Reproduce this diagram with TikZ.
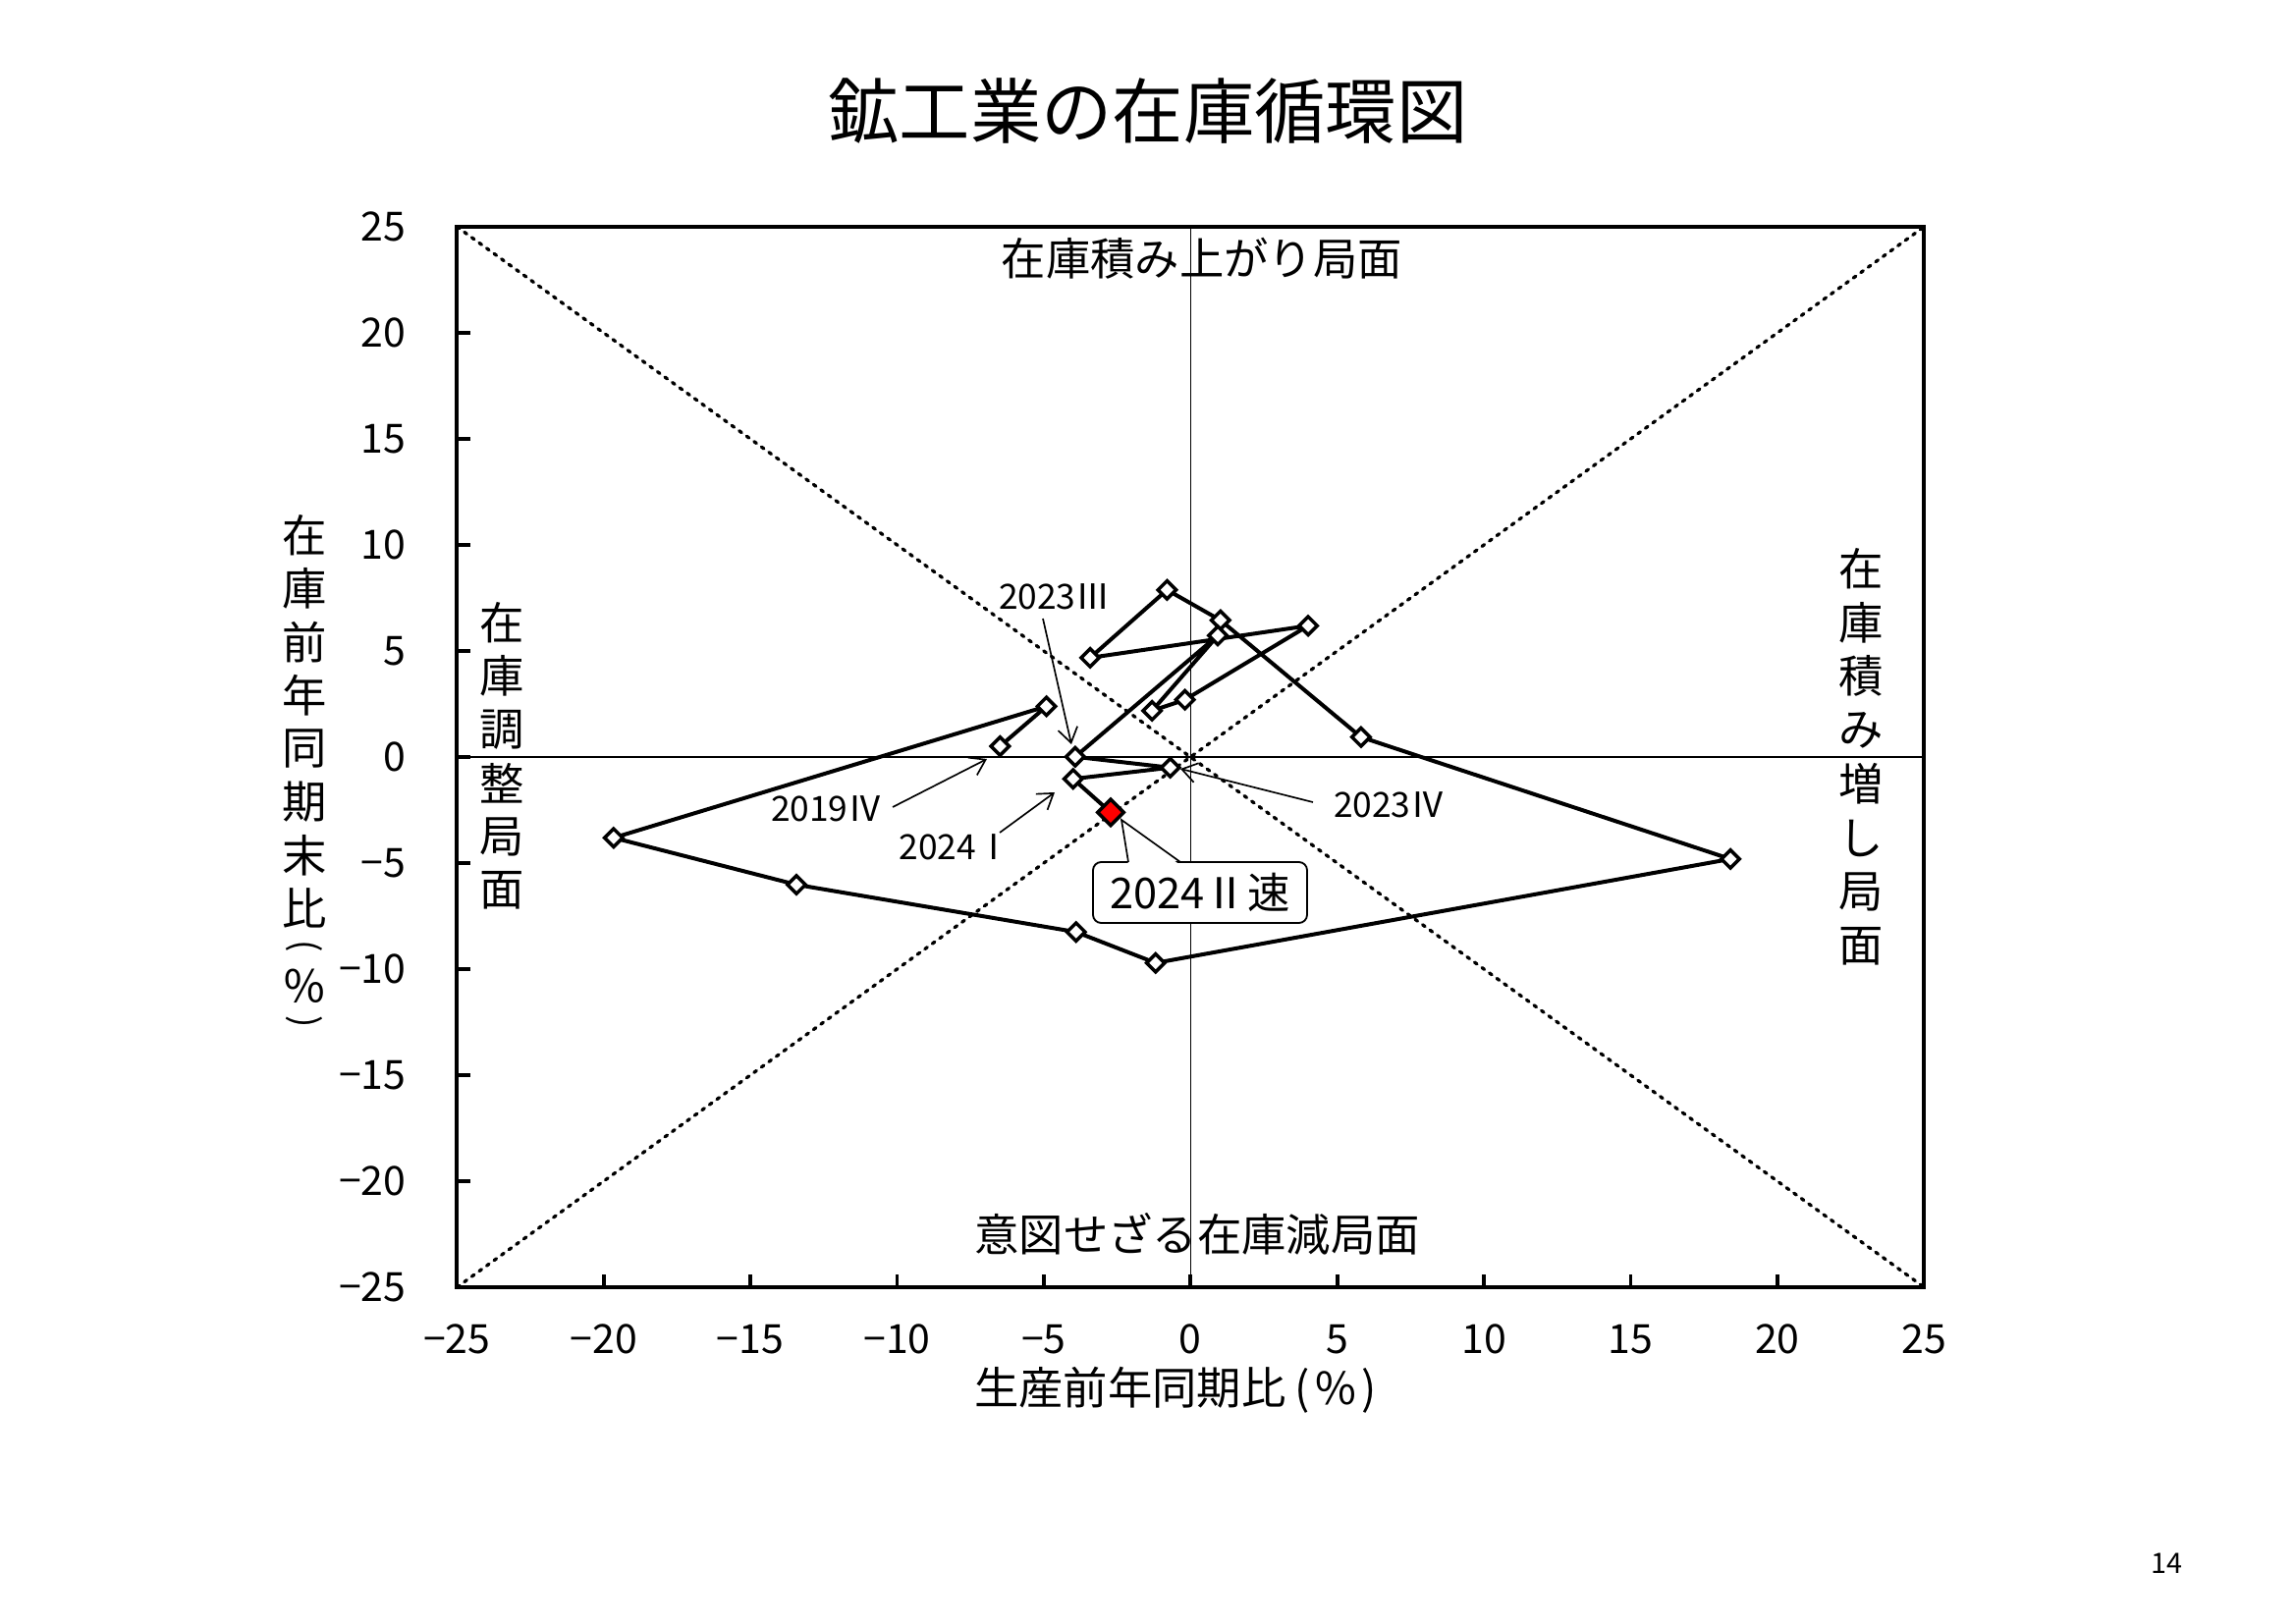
\documentclass[tikz,border=0pt]{standalone}
\usepackage{fontspec}
\setmainfont{Noto Sans CJK JP}
\usetikzlibrary{shapes.geometric,arrows.meta}
\newcommand\fsz[2]{\fontsize{#1}{#2}\selectfont}
\newcommand\tlab[1]{\ifnum#1<0 −\the\numexpr0-(#1)\relax\else#1\fi}
\begin{document}
\begin{tikzpicture}[x=0.3pt,y=-0.3pt,
  plotframe/.style={line width=1.3pt},
  zeroaxis/.style={line width=0.4pt},
  diagline/.style={line width=1pt,line cap=round,dash pattern=on 0.9pt off 1.9pt},
  serline/.style={line width=1.2pt,line join=round},
  mkr/.style={rectangle,rotate=45,draw,fill=white,line width=1.05pt,inner sep=0pt,minimum width=3.9pt,minimum height=3.9pt},
  mkrred/.style={mkr,fill=red,minimum width=5.6pt,minimum height=5.6pt},
  tickln/.style={line width=1.1pt},
  ticklab/.style={inner sep=0pt,font=\fsz{12.3pt}{13pt}},
  quadlab/.style={inner sep=0pt,font=\fsz{13.6pt}{16pt}},
  smlab/.style={inner sep=0pt,font=\fsz{10.6pt}{12pt}},
  callarrow/.style={line width=0.5pt,-{Straight Barb[length=4.5pt,width=6pt]}},
]
\useasboundingbox (0,0) rectangle (2338,1654);
\fill[white] (0,0) rectangle (2338,1654);

% title
\node[inner sep=0pt,font=\fsz{21.7pt}{24pt}] (title) at (1169,112.6) {鉱工業の在庫循環図};

% data area
\begin{scope}[shift={(363.69pt,-231.3pt)},x=8.964pt,y=6.48pt]
  \coordinate (bl) at (-25,-25);
  \coordinate (br) at (25,-25);
  \coordinate (tl) at (-25,25);
  \coordinate (tr) at (25,25);
  \coordinate (xa) at (-25,0);
  \coordinate (xb) at (25,0);
  \coordinate (ya) at (0,-25);
  \coordinate (yb) at (0,25);
  \draw[zeroaxis] (xa) -- (xb);
  \draw[zeroaxis] (ya) -- (yb);
  \draw[diagline] (bl) -- (tr);
  \draw[diagline] (tl) -- (br);

  \coordinate (p1) at (-6.49,0.51);
  \coordinate (p2) at (-4.91,2.39);
  \coordinate (p3) at (-19.66,-3.81);
  \coordinate (p4) at (-13.43,-6.02);
  \coordinate (p5) at (-3.90,-8.25);
  \coordinate (p6) at (-1.19,-9.71);
  \coordinate (p7) at (18.40,-4.81);
  \coordinate (p8) at (5.81,0.94);
  \coordinate (p9) at (1.02,6.45);
  \coordinate (p10) at (-0.80,7.88);
  \coordinate (p11) at (-3.42,4.68);
  \coordinate (p12) at (4.01,6.19);
  \coordinate (p13) at (-0.19,2.70);
  \coordinate (p14) at (-1.31,2.18);
  \coordinate (p15) at (0.93,5.73);
  \coordinate (p16) at (-3.93,0.01);
  \coordinate (p17) at (-0.69,-0.50);
  \coordinate (p18) at (-4.00,-1.03);
  \coordinate (p19) at (-2.72,-2.61);
  \draw[serline] (p1) -- (p2) -- (p3) -- (p4) -- (p5) -- (p6) -- (p7) -- (p8)
     -- (p9) -- (p10) -- (p11) -- (p12) -- (p13) -- (p14) -- (p15) -- (p16)
     -- (p17) -- (p18) -- (p19);
  \foreach \i in {1,...,18} \node[mkr] (m\i) at (p\i) {};
  \node[mkrred] (m19) at (p19) {};

  \draw[plotframe] (bl) rectangle (tr);
  \foreach \v in {-20,-15,...,20} {
    \draw[tickln] (\v,-25) -- ++(0,4pt);
    \draw[tickln] (-25,\v) -- ++(4pt,0);
  }
\end{scope}

% tick labels
\foreach \v [count=\i] in {-25,-20,...,25} {
  \node[ticklab,anchor=east] (yl\i) at (414,{771-21.6*\v}) {\tlab{\v}};
  \node[ticklab] (xl\i) at ({1212.3+29.88*\v},1364) {\tlab{\v}};
}

% axis titles
\node[quadlab] (xt) at (1197,1416) {生産前年同期比\kern.2em(\kern.12em\%\kern.12em)};
\foreach \c [count=\i] in {在,庫,前,年,同,期,末,比}
  \node[quadlab] (yt\i) at (310,{545+54.3*(\i-1)}) {\c};
\node[inner sep=0pt,font=\fsz{11pt}{12pt},rotate=-90] (yt9) at (310,964) {(};
\node[quadlab] (yt10) at (310,1004) {％};
\node[inner sep=0pt,font=\fsz{11pt}{12pt},rotate=-90] (yt11) at (310,1041) {)};

% quadrant labels
\node[quadlab] (qtop) at (1223.8,263) {在庫積み上がり局面};
\node[quadlab] (qbot) at (1219,1257) {意図せざる在庫減局面};
\foreach \c [count=\i] in {在,庫,調,整,局,面}
  \node[quadlab] (ql\i) at (511,{634+54.6*(\i-1)}) {\c};
\foreach \c [count=\i] in {在,庫,積,み,増,し,局,面}
  \node[quadlab] (qr\i) at (1895,{579+54.9*(\i-1)}) {\c};

% point labels
\node[smlab] (l1) at (842,823.5) {2019Ⅳ};
\node[smlab] (l2) at (1074,608) {2023Ⅲ};
\node[smlab] (l3) at (1415,819.7) {2023Ⅳ};
\node[smlab] (l4) at (972.5,862.5) {2024Ⅰ};
\coordinate (a1s) at (909,822);  \coordinate (a1e) at (1005,773);
\coordinate (a2s) at (1062,630); \coordinate (a2e) at (1091,758);
\coordinate (a3s) at (1337,817); \coordinate (a3e) at (1202,783);
\coordinate (a4s) at (1018,848); \coordinate (a4e) at (1074,807);
\draw[callarrow] (a1s) -- (a1e);
\draw[callarrow] (a2s) -- (a2e);
\draw[callarrow] (a3s) -- (a3e);
\draw[callarrow] (a4s) -- (a4e);

% callout
\node[draw,line width=0.55pt,rounded corners=2.5pt,fill=white,minimum width=65.4pt,
  minimum height=18.6pt,inner sep=0pt,font=\fsz{13pt}{14pt}] (cbox) at (1222,909) {2024Ⅱ速};
\coordinate (cb1) at (1149,878);
\coordinate (cb2) at (1202,878);
\coordinate (capx) at (1142,835);
\fill[white] ([yshift=-1pt]cb1) -- (capx) -- ([yshift=-1pt]cb2) -- cycle;
\draw[line width=0.5pt] (cb1) -- (capx) -- (cb2);

% page number
\node[inner sep=0pt,font=\fsz{8.6pt}{10pt}] (pg) at (2206,1592) {14};
\end{tikzpicture}
\end{document}
